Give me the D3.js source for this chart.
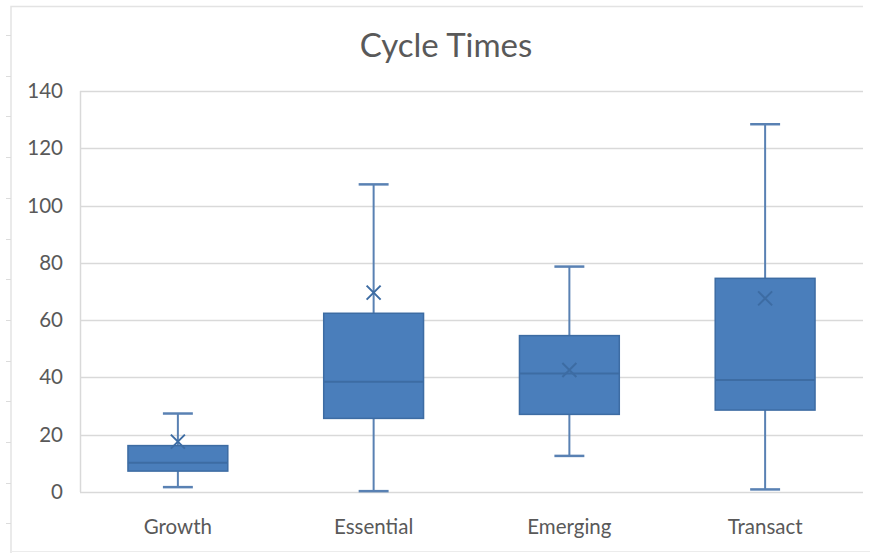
<!DOCTYPE html>
<html>
<head>
<meta charset="utf-8">
<script src="https://cdn.jsdelivr.net/npm/d3@7/dist/d3.min.js"></script>
<style>
  html, body { margin: 0; padding: 0; background: #fff; }
  svg { display: block; }
</style>
</head>
<body>
<svg id="chart" width="870" height="553"></svg>
<script>
// Cycle time distributions per segment
const categories = ["Growth", "Essential", "Emerging", "Transact"];
const whiskerLow  = [1.7, 0.3, 12.6, 0.9];
const quartile1   = [7.3, 25.7, 27.1, 28.6];
const medians     = [10.2, 38.5, 41.4, 39.1];
const quartile3   = [16.2, 62.4, 54.6, 74.6];
const whiskerHigh = [27.4, 107.4, 78.7, 128.4];
const means       = [17.6, 69.6, 42.6, 67.6];
const yTicks      = [0, 20, 40, 60, 80, 100, 120, 140];

const rows = categories.map((c, i) => ({
  name: c, lo: whiskerLow[i], q1: quartile1[i], med: medians[i],
  q3: quartile3[i], hi: whiskerHigh[i], mean: means[i]
}));

const svg = d3.select("#chart");
const W = 870, H = 553;
const margin = { left: 80, right: 7, top: 91, bottom: 61 };
const font = "Lato, 'Open Sans', 'Liberation Sans', sans-serif";
const textColor = "#595959";
const gridColor = "#d9d9d9";
const fillColor = "#4a7ebb";
const strokeColor = "#3d6ca3";
const whiskerColor = "#5981b3";

// Outer chart frame with sheet row marks on its left side
svg.append("path")
  .attr("d", `M11,${H} V6.5 H863`)
  .attr("fill", "none").attr("stroke", "#e3e3e3").attr("stroke-width", 1.5);
svg.append("line").attr("x1", 11).attr("x2", 870).attr("y1", 551.5).attr("y2", 551.5)
  .attr("stroke", "#ececec").attr("stroke-width", 1);
d3.range(0, 13).forEach(i => {
  const y = Math.round(35 + i * 40.7) + 0.5;
  svg.append("line").attr("x1", 6).attr("x2", 11).attr("y1", y).attr("y2", y)
    .attr("stroke", "#dcdcdc").attr("stroke-width", 1);
});

const x = d3.scaleBand()
  .domain(categories)
  .range([margin.left, W - margin.right])
  .paddingInner(0).paddingOuter(0);

const y = d3.scaleLinear()
  .domain([0, 140])
  .range([H - margin.bottom, margin.top]);

// Gridlines
svg.append("g")
  .selectAll("line")
  .data(yTicks)
  .join("line")
  .attr("x1", margin.left).attr("x2", W - margin.right)
  .attr("y1", d => Math.round(y(d)) + 0.5).attr("y2", d => Math.round(y(d)) + 0.5)
  .attr("stroke", gridColor).attr("stroke-width", 1.5);

// Plot area left edge
svg.append("line")
  .attr("x1", margin.left + 0.5).attr("x2", margin.left + 0.5)
  .attr("y1", y(140)).attr("y2", y(0))
  .attr("stroke", gridColor).attr("stroke-width", 1.5);

// Y axis labels
const yAxis = d3.axisLeft(y).tickValues(yTicks).tickSize(0).tickPadding(17);
const gy = svg.append("g").attr("transform", `translate(${margin.left},0)`).call(yAxis);
gy.select(".domain").remove();
gy.selectAll("text")
  .attr("font-family", font).attr("font-size", 20.5).attr("fill", textColor);

// X axis labels
const xAxis = d3.axisBottom(x).tickSize(0).tickPadding(27);
const gx = svg.append("g").attr("transform", `translate(0,${y(0)})`).call(xAxis);
gx.select(".domain").remove();
gx.selectAll("text")
  .attr("font-family", font).attr("font-size", 20.5).attr("fill", textColor);

// Title
svg.append("text")
  .attr("x", 446).attr("y", 57)
  .attr("text-anchor", "middle")
  .attr("font-family", font).attr("font-size", 33)
  .attr("fill", textColor)
  .text("Cycle Times");

// Box plots
const boxW = x.bandwidth() * 0.51;
const capW = boxW * 0.3;
const g = svg.append("g");

rows.forEach(d => {
  const cx = x(d.name) + x.bandwidth() / 2;
  const bx = g.append("g");
  // whiskers
  bx.append("line").attr("x1", cx).attr("x2", cx)
    .attr("y1", y(d.hi)).attr("y2", y(d.q3))
    .attr("stroke", whiskerColor).attr("stroke-width", 2);
  bx.append("line").attr("x1", cx).attr("x2", cx)
    .attr("y1", y(d.q1)).attr("y2", y(d.lo))
    .attr("stroke", whiskerColor).attr("stroke-width", 2);
  [d.hi, d.lo].forEach(v => {
    bx.append("line").attr("x1", cx - capW / 2).attr("x2", cx + capW / 2)
      .attr("y1", y(v)).attr("y2", y(v))
      .attr("stroke", whiskerColor).attr("stroke-width", 2.5);
  });
  // box
  bx.append("rect")
    .attr("x", cx - boxW / 2).attr("y", y(d.q3))
    .attr("width", boxW).attr("height", y(d.q1) - y(d.q3))
    .attr("fill", fillColor).attr("stroke", strokeColor).attr("stroke-width", 1.5);
  // median
  bx.append("line").attr("x1", cx - boxW / 2).attr("x2", cx + boxW / 2)
    .attr("y1", y(d.med)).attr("y2", y(d.med))
    .attr("stroke", strokeColor).attr("stroke-width", 2);
  // mean marker
  const s = 7;
  const my = y(d.mean);
  bx.append("path")
    .attr("d", `M${cx - s},${my - s}L${cx + s},${my + s}M${cx - s},${my + s}L${cx + s},${my - s}`)
    .attr("stroke", strokeColor).attr("stroke-width", 2).attr("fill", "none");
});
</script>
</body>
</html>
